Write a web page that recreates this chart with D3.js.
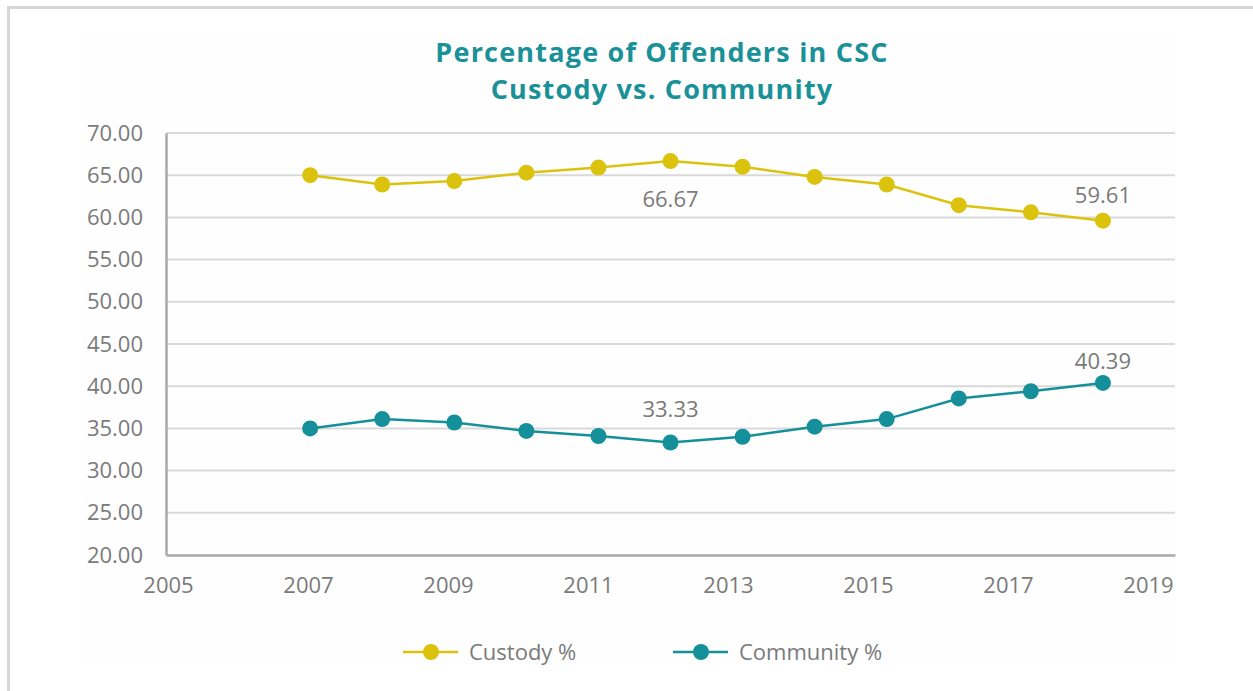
<!DOCTYPE html>
<html>
<head>
<meta charset="utf-8">
<script src="https://cdn.jsdelivr.net/npm/d3@7"></script>
<style>
  html, body { margin: 0; padding: 0; background: #ffffff; }
  svg { display: block; font-family: "Open Sans", sans-serif; }
</style>
</head>
<body>
<svg id="chart" width="1253" height="691"></svg>
<script>
// ---- Data ----
const years = [2007, 2008, 2009, 2010, 2011, 2012, 2013, 2014, 2015, 2016, 2017, 2018];
const custody = [65.0, 63.9, 64.3, 65.3, 65.9, 66.67, 66.0, 64.8, 63.9, 61.45, 60.6, 59.61];
const community = [35.0, 36.1, 35.7, 34.7, 34.1, 33.33, 34.0, 35.2, 36.1, 38.55, 39.4, 40.39];
const xTickLabels = [2005, 2007, 2009, 2011, 2013, 2015, 2017, 2019];
const yTicks = [20, 25, 30, 35, 40, 45, 50, 55, 60, 65, 70];
const seriesNames = ["Custody %", "Community %"];
const labelledIdx = [5, 11];
const titleLines = ["Percentage of Offenders in CSC", "Custody vs. Community"];

// ---- Styles ----
const colCustody = "#dbc30d";
const colCommunity = "#15909a";
const colTitle = "#1a9198";
const colText = "#7a7a7a";
const colGrid = "#d9d9d9";
const colAxis = "#a9a9a9";

const svg = d3.select("#chart");

// frame
svg.append("rect").attr("x", 0).attr("y", 0).attr("width", 1253).attr("height", 691).attr("fill", "#fff");
svg.append("line").attr("x1", 7).attr("x2", 1253).attr("y1", 7.5).attr("y2", 7.5)
  .attr("stroke", "#d6d6d6").attr("stroke-width", 3);
svg.append("line").attr("x1", 8.5).attr("x2", 8.5).attr("y1", 6).attr("y2", 691)
  .attr("stroke", "#d6d6d6").attr("stroke-width", 3);
// subtle chart area
svg.append("rect").attr("x", 83).attr("y", 36).attr("width", 1093).attr("height", 629).attr("fill", "#fefefe");

const x = d3.scaleLinear().domain([2005, 2019]).range([166, 1175]);
const xLab = d3.scaleLinear().domain([2005, 2019]).range([168, 1148]);
const y = d3.scaleLinear().domain([20, 70]).range([555, 133]);

// title
svg.append("g").selectAll("text").data(titleLines).join("text")
  .attr("x", 662).attr("y", (d, i) => 62 + i * 37)
  .attr("text-anchor", "middle")
  .attr("font-size", 27).attr("font-weight", 700)
  .attr("letter-spacing", 1.2)
  .attr("fill", colTitle)
  .text(d => d);

// gridlines
svg.append("g").selectAll("line").data(yTicks.filter(v => v > 20)).join("line")
  .attr("x1", x(2005)).attr("x2", x(2019))
  .attr("y1", d => y(d)).attr("y2", d => y(d))
  .attr("stroke", colGrid).attr("stroke-width", 2);

// y axis
const yAxis = svg.append("g").attr("transform", `translate(${x(2005)},0)`)
  .call(d3.axisLeft(y).tickValues(yTicks).tickSize(0).tickPadding(23).tickFormat(d3.format(".2f")));
yAxis.select(".domain").attr("stroke", colAxis).attr("stroke-width", 2.5);
yAxis.selectAll("text").attr("font-size", 22).attr("fill", colText).attr("font-family", "Open Sans");

// x axis line
const xAxis = svg.append("g").attr("transform", `translate(0,${y(20)})`)
  .call(d3.axisBottom(x).tickValues([]).tickSize(0));
xAxis.select(".domain").attr("stroke", colAxis).attr("stroke-width", 2.5);

// x tick labels
const xLabAxis = svg.append("g").attr("transform", `translate(0,${y(20)})`)
  .call(d3.axisBottom(xLab).tickValues(xTickLabels).tickSize(0).tickPadding(22).tickFormat(d3.format("d")));
xLabAxis.select(".domain").remove();
xLabAxis.selectAll("text").attr("font-size", 22).attr("fill", colText).attr("font-family", "Open Sans");

// series
const series = [
  { name: seriesNames[0], values: custody, color: colCustody, labelDy: [46, -18] },
  { name: seriesNames[1], values: community, color: colCommunity, labelDy: [-25, -14] }
];

const line = d3.line().x(d => x(d[0])).y(d => y(d[1]));

series.forEach(s => {
  const pts = years.map((yr, i) => [yr, s.values[i]]);
  svg.append("path").datum(pts)
    .attr("d", line).attr("fill", "none")
    .attr("stroke", s.color).attr("stroke-width", 2.5);
  svg.append("g").selectAll("circle").data(pts).join("circle")
    .attr("cx", d => x(d[0])).attr("cy", d => y(d[1])).attr("r", 8)
    .attr("fill", s.color);
  svg.append("g").selectAll("text").data(labelledIdx).join("text")
    .attr("x", i => x(years[i]))
    .attr("y", (i, k) => y(s.values[i]) + s.labelDy[k])
    .attr("text-anchor", "middle")
    .attr("font-size", 22).attr("fill", colText)
    .text(i => d3.format(".2f")(s.values[i]));
});

// legend
const legendX = [403, 673];
const leg = svg.append("g").selectAll("g").data(series).join("g")
  .attr("transform", (d, i) => `translate(${legendX[i]},652)`);
leg.append("line").attr("x1", 0).attr("x2", 55).attr("y1", 0).attr("y2", 0)
  .attr("stroke", d => d.color).attr("stroke-width", 2.5);
leg.append("circle").attr("cx", 28).attr("cy", 0).attr("r", 8).attr("fill", d => d.color);
leg.append("text").attr("x", 66).attr("y", 8)
  .attr("font-size", 22).attr("fill", colText)
  .text(d => d.name);
</script>
</body>
</html>
